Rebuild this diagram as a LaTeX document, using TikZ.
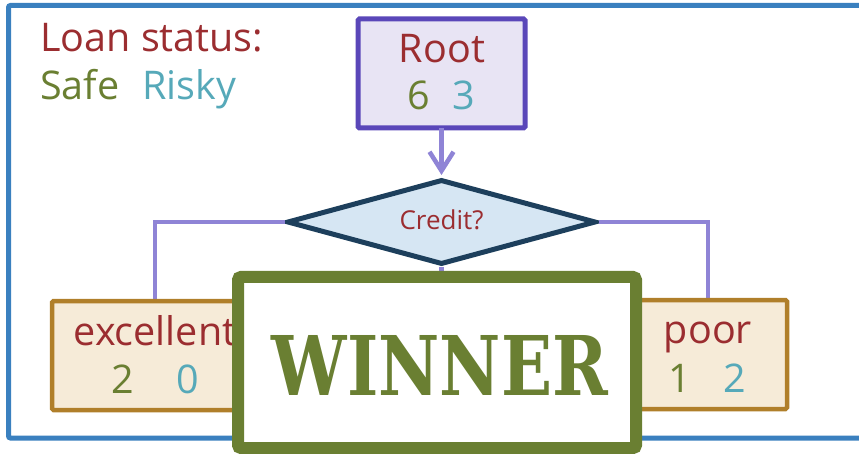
\documentclass[tikz,border=0pt]{standalone}
\usepackage{fontspec}
\setmainfont{Open Sans}
\newfontfamily\stencilfont{DejaVu Serif}
\usetikzlibrary{arrows.meta,shapes.geometric,shadows}

\definecolor{frameblue}{HTML}{3A80BF}
\definecolor{labelred}{HTML}{9B2D30}
\definecolor{safegreen}{HTML}{6A7F32}
\definecolor{riskyteal}{HTML}{56A9B9}
\definecolor{rootfill}{HTML}{E8E4F4}
\definecolor{rootdraw}{HTML}{5A47B9}
\definecolor{linkviolet}{HTML}{8F84D6}
\definecolor{splitfill}{HTML}{D6E6F3}
\definecolor{splitdraw}{HTML}{1D3F5C}
\definecolor{leaffill}{HTML}{F6EBD8}
\definecolor{leafdraw}{HTML}{B07F2A}

\tikzset{
  txt/.style={inner sep=0pt, anchor=base, font=\fontsize{39.5}{42}\selectfont},
  rootbox/.style={draw=rootdraw, fill=rootfill, line width=5pt, rounded corners=1.5pt},
  leafbox/.style={draw=leafdraw, fill=leaffill, line width=4.5pt, rounded corners=1.5pt},
  split/.style={diamond, draw=splitdraw, fill=splitfill, line width=5pt, minimum width=309pt, minimum height=85pt, inner sep=0pt, aspect=3.6},
  link/.style={draw=linkviolet, line width=4.5pt},
  winbox/.style={draw=safegreen, fill=white, line width=12pt, rounded corners=3pt,
    drop shadow={shadow xshift=2pt, shadow yshift=-2pt, opacity=.25, fill=black}}
}

\begin{document}
\begin{tikzpicture}[x=1pt,y=-1pt]
\useasboundingbox (0,0) rectangle (859,454);
\begin{scope}
\clip (0,0) rectangle (859,454);

% outer frame
\draw[frameblue, line width=5pt, rounded corners=2pt] (8.5,5.5) rectangle (880,438);

% legend
\node[txt, anchor=base west, text=labelred] (legend) at (40,52) {Loan status:};
\node[txt, anchor=base west, text=safegreen] (safe) at (40,100) {Safe};
\node[txt, anchor=base west, text=riskyteal] (risky) at (142,100) {Risky};

% root node
\draw[rootbox] (358,19) rectangle (525,128);
\coordinate (rootS) at (441.5,128);
\node[txt, text=labelred] (roottxt) at (442,63) {Root};
\node[txt, text=safegreen] (root6) at (419,110) {6};
\node[txt, text=riskyteal] (root3) at (464,110) {3};

% split on credit
\node[split] (credit) at (441.5,222) {};
\node[txt, text=labelred, font=\fontsize{26}{28}\selectfont] (credittxt) at (441.5,230) {Credit?};

\draw[link, -{Straight Barb[length=19pt,width=24pt,line width=4.5pt]}] (rootS) -- ([yshift=2pt]credit.north);

% leaves
\coordinate (excTop) at (155,301);
\coordinate (poorTop) at (708,300);
\coordinate (midTop) at (441.5,300);
\draw[link] (credit.west) -| (excTop);
\draw[link] (credit.east) -| (poorTop);
\draw[link] (credit.south) -- (midTop);

\draw[leafbox] (52,301) rectangle (258,410);
\node[txt, text=labelred] (exctxt) at (155,345) {excellent};
\node[txt, text=safegreen] (exc2) at (123,393) {2};
\node[txt, text=riskyteal] (exc0) at (188,393) {0};

\draw[leafbox] (628,300) rectangle (787,409);
\node[txt, text=labelred] (poortxt) at (708,343) {poor};
\node[txt, text=safegreen] (poor1) at (680,392) {1};
\node[txt, text=riskyteal] (poor2) at (735,392) {2};

% winner banner
\draw[winbox] (238,277) rectangle (636,448);
\node[inner sep=0pt, text=safegreen] (winner) at (440,365)
  {\resizebox{336pt}{60pt}{\stencilfont\bfseries WINNER}};
\end{scope}
\end{tikzpicture}
\end{document}
